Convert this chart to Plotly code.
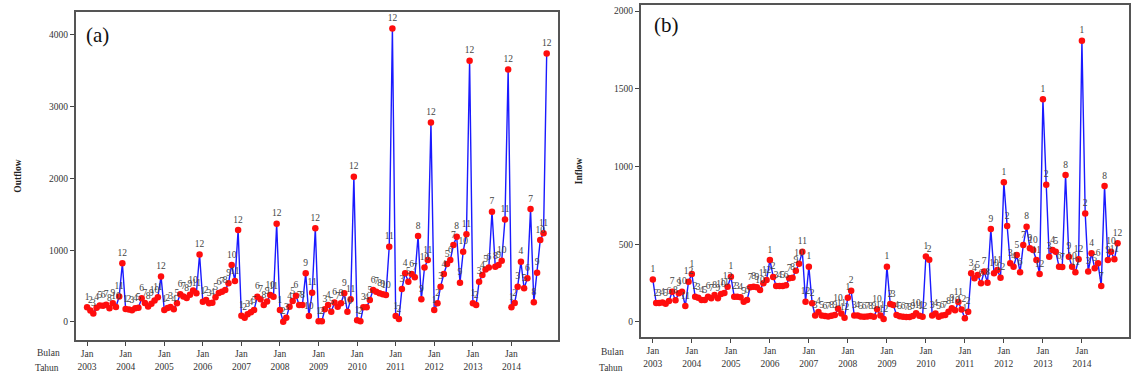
import plotly.graph_objects as go
import pandas as pd

years = list(range(2003, 2015))
month_numbers = list(range(1, 13))

outflow_2003 = [205, 160, 120, 200, 230, 225, 240, 190, 260, 210, 355, 817]
outflow_2004 = [180, 175, 165, 190, 200, 330, 265, 215, 255, 300, 345, 635]
outflow_2005 = [168, 195, 210, 178, 260, 385, 355, 335, 380, 440, 400, 940]
outflow_2006 = [283, 305, 262, 268, 345, 405, 420, 445, 540, 795, 570, 1282]
outflow_2007 = [88, 60, 107, 135, 167, 353, 316, 237, 284, 376, 353, 1370]
outflow_2008 = [167, 5, 60, 214, 293, 367, 237, 237, 678, 83, 408, 1305]
outflow_2009 = [10, 10, 176, 237, 144, 270, 214, 260, 400, 144, 316, 2024]
outflow_2010 = [23, 10, 205, 205, 307, 446, 423, 400, 386, 376, 1049, 4090]
outflow_2011 = [84, 42, 460, 678, 562, 668, 622, 1198, 316, 761, 863, 2781]
outflow_2012 = [167, 260, 492, 668, 808, 863, 1072, 1188, 548, 980, 1221, 3640]
outflow_2013 = [260, 237, 562, 654, 733, 761, 1537, 770, 794, 854, 1430, 3520]
outflow_2014 = [204, 265, 492, 840, 469, 608, 1574, 274, 687, 1142, 1235, 3742]

inflow_2003 = [274, 122, 122, 125, 118, 135, 195, 140, 185, 195, 103, 259]
inflow_2004 = [309, 163, 156, 141, 141, 163, 152, 174, 152, 180, 187, 227]
inflow_2005 = [291, 163, 163, 159, 130, 141, 223, 227, 223, 206, 249, 270]
inflow_2006 = [399, 290, 232, 232, 232, 236, 281, 285, 330, 375, 452, 130]
inflow_2007 = [356, 120, 41, 65, 42, 38, 36, 40, 45, 85, 55, 28]
inflow_2008 = [156, 201, 41, 41, 35, 34, 35, 38, 34, 82, 41, 19]
inflow_2009 = [356, 116, 110, 45, 37, 33, 32, 32, 38, 56, 40, 33]
inflow_2010 = [422, 400, 41, 55, 34, 42, 45, 66, 88, 75, 128, 80]
inflow_2011 = [24, 66, 313, 281, 302, 249, 324, 253, 598, 313, 334, 285]
inflow_2012 = [898, 617, 377, 356, 431, 320, 495, 613, 474, 463, 399, 309]
inflow_2013 = [1432, 883, 420, 463, 452, 356, 354, 945, 420, 356, 320, 403]
inflow_2014 = [1809, 697, 324, 442, 345, 377, 231, 875, 399, 452, 403, 506]

outflow = (outflow_2003 + outflow_2004 + outflow_2005 + outflow_2006 + outflow_2007 + outflow_2008
           + outflow_2009 + outflow_2010 + outflow_2011 + outflow_2012 + outflow_2013 + outflow_2014)
inflow = (inflow_2003 + inflow_2004 + inflow_2005 + inflow_2006 + inflow_2007 + inflow_2008
          + inflow_2009 + inflow_2010 + inflow_2011 + inflow_2012 + inflow_2013 + inflow_2014)

dates = pd.date_range("2003-01-01", periods=len(outflow), freq="MS")
labels = [str(m) for _ in years for m in month_numbers]
tick_dates = [pd.Timestamp(f"{y}-01-01") for y in years]
tick_text = [f"Jan<br>{y}" for y in years]

SERIF = "Liberation Serif, Times New Roman, serif"
W, H = 1144, 380

fig = go.Figure()

def add_series(values, xa, ya):
    fig.add_trace(go.Scatter(
        x=dates, y=values, mode="lines+markers+text",
        text=labels, textposition="top center",
        textfont=dict(family=SERIF, size=9.5, color="#444"),
        line=dict(color="#1a1aff", width=1.4),
        marker=dict(color="#ff0d0d", size=6.5),
        xaxis=xa, yaxis=ya, showlegend=False, cliponaxis=False,
    ))

add_series(outflow, "x", "y")
add_series(inflow, "x2", "y2")

axis_common = dict(
    showline=True, linecolor="#555", linewidth=2, mirror=True,
    ticks="outside", ticklen=4, tickcolor="#444", tickwidth=1,
    showgrid=False, zeroline=False,
    tickfont=dict(family=SERIF, size=9.5, color="#333"),
)

def px_x(p):
    return p / W

def px_y(p):
    return 1 - p / H

fig.update_layout(
    width=W, height=H, margin=dict(l=0, r=0, t=0, b=0),
    paper_bgcolor="white", plot_bgcolor="white",
    xaxis=dict(domain=[px_x(76), px_x(558)], type="date",
               range=["2002-09-18", "2015-03-18"],
               tickvals=tick_dates, ticktext=tick_text, anchor="y", **axis_common),
    yaxis=dict(domain=[px_y(340), px_y(12)], range=[-251, 4320],
               tickvals=[0, 1000, 2000, 3000, 4000], anchor="x",
               title=dict(text="<b>Outflow</b>", font=dict(family=SERIF, size=9.5, color="#222"), standoff=26),
               **axis_common),
    xaxis2=dict(domain=[px_x(641), px_x(1129)], type="date",
                range=["2002-09-12", "2015-03-18"],
                tickvals=tick_dates, ticktext=tick_text, anchor="y2", **axis_common),
    yaxis2=dict(domain=[px_y(337), px_y(5)], range=[-96.5, 2038.6],
                tickvals=[0, 500, 1000, 1500, 2000], anchor="x2",
                title=dict(text="<b>Inflow</b>", font=dict(family=SERIF, size=9.5, color="#222"), standoff=30),
                **axis_common),
)

annots = [
    dict(text="(a)", x=px_x(84), y=px_y(35), xanchor="left", yanchor="middle", font=dict(size=21)),
    dict(text="(b)", x=px_x(652), y=px_y(25), xanchor="left", yanchor="middle", font=dict(size=21)),
    dict(text="Bulan", x=px_x(62), y=px_y(353), xanchor="right", yanchor="middle", font=dict(size=9.5, color="#333")),
    dict(text="Tahun", x=px_x(61), y=px_y(368), xanchor="right", yanchor="middle", font=dict(size=9.5, color="#333")),
    dict(text="Bulan", x=px_x(626), y=px_y(352), xanchor="right", yanchor="middle", font=dict(size=9.5, color="#333")),
    dict(text="Tahun", x=px_x(625), y=px_y(368), xanchor="right", yanchor="middle", font=dict(size=9.5, color="#333")),
]
for a in annots:
    f = dict(family=SERIF, color="#111")
    f.update(a.pop("font"))
    fig.add_annotation(xref="paper", yref="paper", showarrow=False, font=f, **a)

fig.write_html("out.html")
